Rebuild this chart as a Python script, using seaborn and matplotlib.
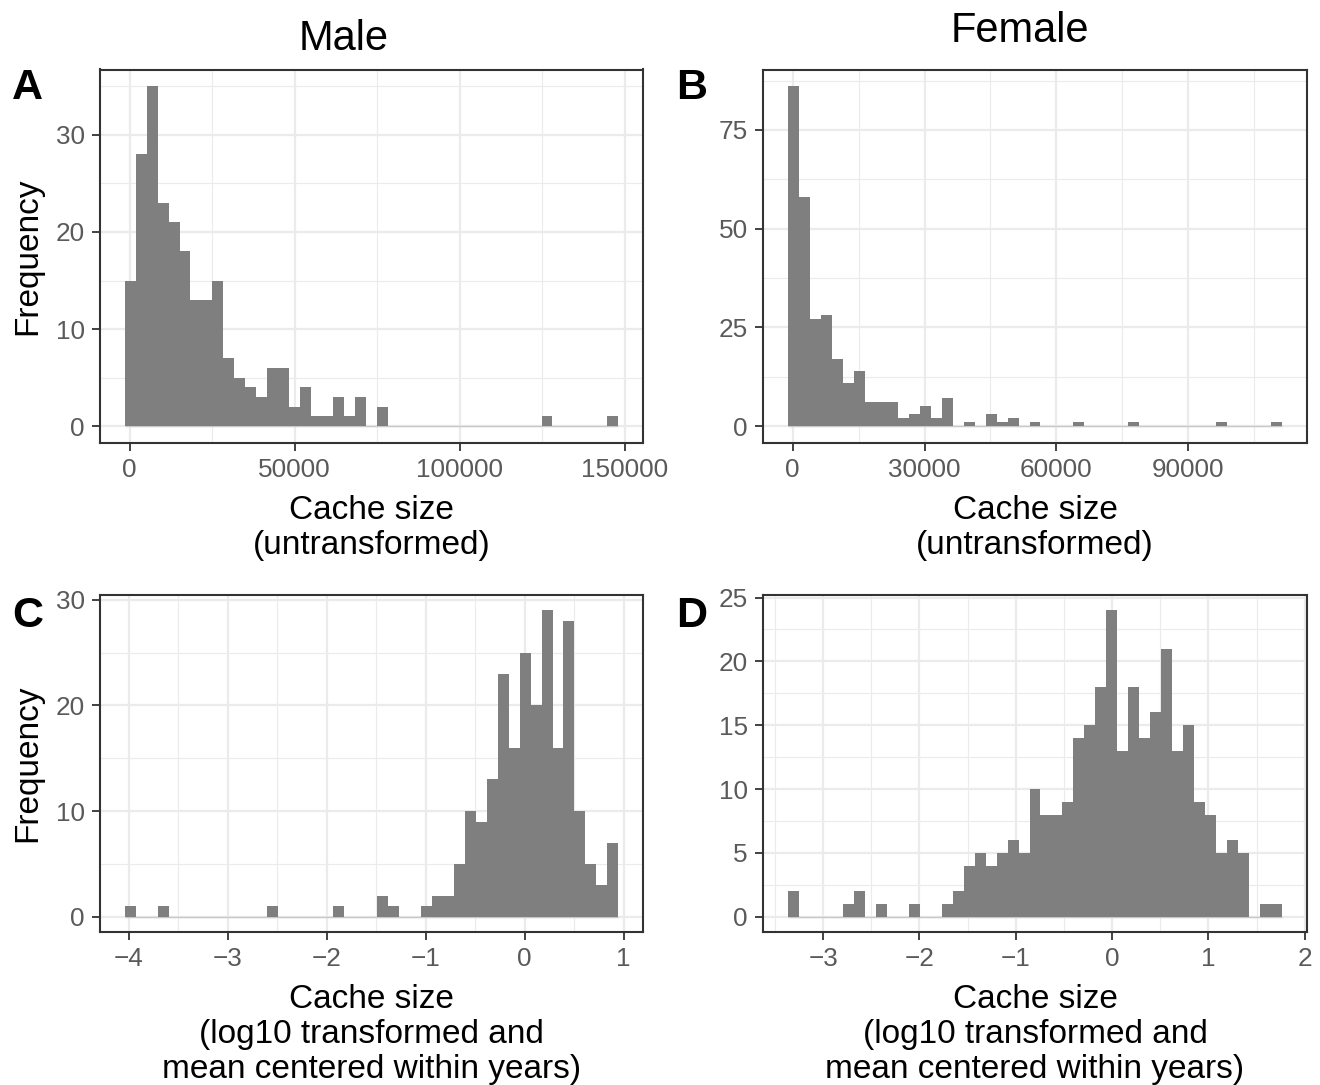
import numpy as np
import pandas as pd
import matplotlib
matplotlib.use("Agg")
import matplotlib.pyplot as plt
import seaborn as sns

# ---------------- data ----------------
n_bins = 45

# Panel A: Male, untransformed
male_raw_min, male_raw_max = 150, 146355
male_raw_counts = [15, 28, 35, 23, 21, 18, 13, 13, 15, 7, 5, 4, 3, 6, 6, 2, 4, 1, 1, 3,
                   1, 3, 0, 2, 0, 0, 0, 0, 0, 0, 0, 0, 0, 0, 0, 0, 0, 0, 1, 0,
                   0, 0, 0, 0, 1]

# Panel B: Female, untransformed
female_raw_min, female_raw_max = 114, 110155
female_raw_counts = [86, 58, 27, 28, 17, 11, 14, 6, 6, 6, 2, 3, 5, 2, 7, 0, 1, 0, 3, 1,
                     2, 0, 1, 0, 0, 0, 1, 0, 0, 0, 0, 1, 0, 0, 0, 0, 0, 0, 0, 1,
                     0, 0, 0, 0, 1]

# Panel C: Male, log10 mean-centred
male_log_min, male_log_max = -3.988, 0.891
male_log_counts = [1, 0, 0, 1, 0, 0, 0, 0, 0, 0, 0, 0, 0, 1, 0, 0, 0, 0, 0, 1,
                   0, 0, 0, 2, 1, 0, 0, 1, 2, 2, 5, 10, 9, 13, 23, 16, 25, 20, 29, 16,
                   28, 10, 5, 3, 7]

# Panel D: Female, log10 mean-centred
female_log_min, female_log_max = -3.310, 1.710
female_log_counts = [2, 0, 0, 0, 0, 1, 2, 0, 1, 0, 0, 1, 0, 0, 1, 2, 4, 5, 4, 5,
                     6, 5, 10, 8, 8, 9, 14, 15, 18, 24, 13, 18, 14, 16, 21, 13, 15, 9, 8, 5,
                     6, 5, 0, 1, 1]

col_titles = ["Male", "Female"]
panel_letters = ["A", "B", "C", "D"]
xlabel_raw = "Cache size\n(untransformed)"
xlabel_log = "Cache size\n(log10 transformed and\nmean centered within years)"
ylabel = "Frequency"

xticks_A = [0, 50000, 100000, 150000]
xticklabels_A = ["0", "50000", "100000", "150000"]
yticks_A = [0, 10, 20, 30]
xticks_B = [0, 30000, 60000, 90000]
xticklabels_B = ["0", "30000", "60000", "90000"]
yticks_B = [0, 25, 50, 75]
xticks_C = [-4, -3, -2, -1, 0, 1]
xticklabels_C = ["\u22124", "\u22123", "\u22122", "\u22121", "0", "1"]
yticks_C = [0, 10, 20, 30]
xticks_D = [-3, -2, -1, 0, 1, 2]
xticklabels_D = ["\u22123", "\u22122", "\u22121", "0", "1", "2"]
yticks_D = [0, 5, 10, 15, 20, 25]

# ---------------- style ----------------
sns.set_theme(style="white")
plt.rcParams["font.family"] = ["Liberation Sans", "DejaVu Sans"]
plt.rcParams["text.color"] = "black"
plt.rcParams["axes.labelcolor"] = "black"

W, H = 1320, 1085
fig = plt.figure(figsize=(W / 100, H / 100), dpi=100)

BAR = "#7F7F7F"
GRID = "#EBEBEB"
BORDER = "#333333"
TICKTXT = "#5A5A5A"


def add_ax(l, t, r, b):
    return fig.add_axes([l / W, 1 - b / H, (r - l) / W, (b - t) / H])


def panel(ax, vmin, vmax, counts, xticks, xticklabels, yticks, xlabel, show_ylabel):
    width = (vmax - vmin) / (n_bins - 1)
    centers = np.linspace(vmin, vmax, n_bins)
    edges = [float(e) for e in np.linspace(vmin - width / 2, vmax + width / 2, n_bins + 1)]
    df = pd.DataFrame({"value": centers, "count": np.asarray(counts, dtype=float)})

    # thin zero line like ggplot's zero-height bins
    ax.plot([edges[0], edges[-1]], [0, 0], color="#C8C8C8", lw=1.0, zorder=1.5,
            solid_capstyle="butt")
    sns.histplot(data=df, x="value", weights="count", bins=edges, ax=ax, color=BAR,
                 alpha=1.0, edgecolor="none", linewidth=0, zorder=2)

    # limits with ggplot-like 5% expansion
    span = edges[-1] - edges[0]
    ax.set_xlim(edges[0] - 0.05 * span, edges[-1] + 0.05 * span)
    ymax = df["count"].max()
    ax.set_ylim(-0.05 * ymax, ymax * 1.05)

    ax.set_xticks(xticks)
    ax.set_xticklabels(xticklabels)
    ax.set_yticks(yticks)
    ax.set_yticklabels([str(v) for v in yticks])
    # minor grid
    xs = np.asarray(xticks, dtype=float)
    xstep = xs[1] - xs[0]
    xmin_lines = np.arange(xs[0] - xstep / 2, xs[-1] + xstep, xstep)
    lo, hi = ax.get_xlim()
    xmin_lines = [v for v in xmin_lines if lo < v < hi]
    ys = np.asarray(yticks, dtype=float)
    ystep = ys[1] - ys[0]
    ymin_lines = np.arange(ys[0] + ystep / 2, ys[-1] + ystep, ystep)
    ylo, yhi = ax.get_ylim()
    ymin_lines = [v for v in ymin_lines if ylo < v < yhi]
    ax.set_xticks(xmin_lines, minor=True)
    ax.set_yticks(ymin_lines, minor=True)
    ax.grid(which="major", color=GRID, lw=1.6, zorder=0)
    ax.grid(which="minor", color=GRID, lw=0.8, zorder=0)
    ax.set_axisbelow(True)

    ax.tick_params(which="major", length=6, width=1.3, color=BORDER,
                   labelsize=18.8, labelcolor=TICKTXT, pad=5,
                   bottom=True, left=True)
    ax.tick_params(which="minor", length=0)
    for s in ax.spines.values():
        s.set_visible(True)
        s.set_color(BORDER)
        s.set_linewidth(1.5)

    ax.set_xlabel(xlabel, fontsize=24, color="black", linespacing=1.18, labelpad=9)
    if show_ylabel:
        ax.set_ylabel(ylabel, fontsize=24, color="black", labelpad=9)
    else:
        ax.set_ylabel("")


axA = add_ax(100, 69.5, 643, 443)
axB = add_ax(763, 69.5, 1307, 443)
axC = add_ax(100, 595, 643, 932)
axD = add_ax(763, 595, 1307, 932)

panel(axA, male_raw_min, male_raw_max, male_raw_counts, xticks_A, xticklabels_A,
      yticks_A, xlabel_raw, True)
panel(axB, female_raw_min, female_raw_max, female_raw_counts, xticks_B, xticklabels_B,
      yticks_B, xlabel_raw, False)
panel(axC, male_log_min, male_log_max, male_log_counts, xticks_C, xticklabels_C,
      yticks_C, xlabel_log, True)
panel(axD, female_log_min, female_log_max, female_log_counts, xticks_D, xticklabels_D,
      yticks_D, xlabel_log, False)

# column titles
fig.text(344 / W, 1 - 50 / H, col_titles[0], ha="center", va="baseline", fontsize=30,
         color="black")
fig.text(1020 / W, 1 - 42 / H, col_titles[1], ha="center", va="baseline", fontsize=30,
         color="black")

# panel letters
letter_pos = [(12, 99), (676, 99), (12, 627), (676, 627)]
for letter, (x, y) in zip(panel_letters, letter_pos):
    fig.text(x / W, 1 - y / H, letter, ha="left", va="baseline", fontsize=31,
             fontweight="bold", color="black")

fig.savefig("out.png", dpi=100, facecolor="white")
